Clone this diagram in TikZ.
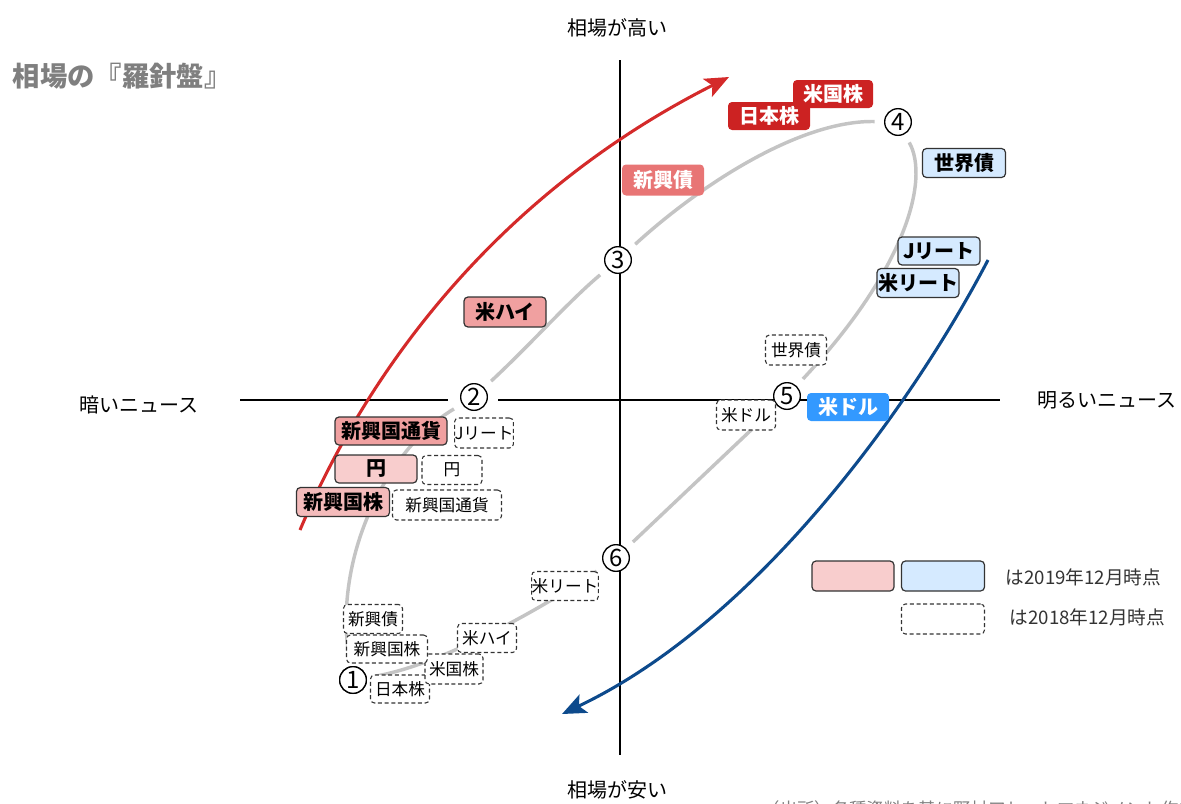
\documentclass[tikz,border=0pt]{standalone}
\usepackage{fontspec}
\setmainfont{Noto Sans CJK JP}
\usetikzlibrary{arrows.meta}
\definecolor{rdark}{HTML}{CC2222}
\definecolor{rarrow}{HTML}{D42A2A}
\definecolor{rmid}{HTML}{E87575}
\definecolor{rpink}{HTML}{F0A0A0}
\definecolor{rlight}{HTML}{F8CDCD}
\definecolor{rpinktwo}{HTML}{F4BBBB}
\definecolor{blight}{HTML}{D5EAFF}
\definecolor{bbright}{HTML}{3399FF}
\definecolor{barrow}{HTML}{0D4A8C}
\definecolor{gcurve}{HTML}{C4C4C4}
\definecolor{edge}{HTML}{333333}
\definecolor{titlegray}{HTML}{7F7F7F}
\begin{document}
\begin{tikzpicture}[x=0.75pt,y=-0.75pt,
 wh/.style 2 args={minimum width=#1*0.75pt,minimum height=#2*0.75pt},
 box/.style={rounded corners=3pt, inner sep=0pt, font=\bfseries\fontsize{15}{15}\selectfont},
 fbox/.style={box, draw=edge, line width=0.9pt, text=black},
 wbox/.style={box, text=white},
 dbox/.style={rounded corners=3pt, inner sep=0pt, draw=edge, line width=0.8pt, dash pattern=on 3pt off 2pt, fill=white, font=\fontsize{12.5}{12.5}\selectfont},
 num/.style={circle, draw=black, line width=1pt, fill=white, minimum size=20pt, inner sep=0pt, font=\fontsize{18}{18}\selectfont},
 gline/.style={draw=gcurve, line width=2.6pt, shorten <=7pt, shorten >=7pt},
 axisline/.style={draw=black, line width=0.8pt},
 lbl/.style={font=\fontsize{15}{15}\selectfont}
]
\useasboundingbox (0,0) rectangle (1181,803);
\clip (0,0) rectangle (1181,803);

% axes
\coordinate (axT) at (620,60);
\coordinate (axB) at (620,755);
\coordinate (axL) at (240,400);
\coordinate (axLm) at (448,400);
\coordinate (axRm) at (498,400);
\coordinate (axR) at (1000,400);
\draw[axisline] (axT) -- (axB);
\draw[axisline] (axL) -- (axLm);
\draw[axisline] (axRm) -- (axR);

% numbered circles
\node[num] (n1) at (353,680) {1};
\node[num] (n2) at (474,397) {2};
\node[num] (n3) at (618,260) {3};
\node[num] (n4) at (898,122) {4};
\node[num] (n5) at (787,396) {5};
\node[num] (n6) at (616,558) {6};

% gray cycle
\draw[gline] (n1) .. controls (333,560) and (385,450) .. (n2);
\draw[gline] (n2) .. controls (530,345) and (570,300) .. (n3);
\draw[gline] (n3) .. controls (700,185) and (800,120) .. (n4);
\draw[gline] (n4) .. controls (930,180) and (905,270) .. (n5);
\draw[gline] (n5) -- (n6);
\draw[gline] (n6) .. controls (540,610) and (440,665) .. (n1);

% red and blue arrows
\coordinate (ra0) at (300,530);
\coordinate (ra1) at (729,77);
\draw[draw=rarrow, line width=2.3pt, -{Stealth[length=18pt,width=15pt,inset=4pt]}]
  (ra0) .. controls (372,360) and (505,190) .. (ra1);
\coordinate (ba0) at (988,260);
\coordinate (ba1) at (562,714);
\draw[draw=barrow, line width=2.3pt, -{Stealth[length=18pt,width=15pt,inset=4pt]}]
  (ba0) .. controls (915,400) and (760,620) .. (ba1);

% 2018 dashed boxes
\node[dbox, wh={61}{30}] (d1) at (796,350) {世界債};
\node[dbox, wh={59}{30}] (d2) at (746,415) {米ドル};
\node[dbox, wh={58}{30}] (d3) at (484,433) {Jリート};
\node[dbox, wh={60}{29}] (d4) at (452,470) {円};
\node[dbox, wh={109}{30}] (d5) at (447,505) {新興国通貨};
\node[dbox, wh={60}{29}] (d6) at (565,586) {米リート};
\node[dbox, wh={59}{29}] (d7) at (373,619) {新興債};
\node[dbox, wh={59}{29}] (d8) at (487,638) {米ハイ};
\node[dbox, wh={59}{28}] (d9) at (400,689) {日本株};
\node[dbox, wh={58}{30}] (d10) at (454,669) {米国株};
\node[dbox, wh={81}{28}] (d11) at (387,649) {新興国株};
\node[num] at (n1) {1};

% 2019 filled boxes
\node[wbox, fill=rdark, wh={82}{28}] (f1) at (769,116) {日本株};
\node[wbox, fill=rdark, wh={80}{28}] (f2) at (833,94) {米国株};
\node[wbox, fill=rmid, wh={82}{31}] (f3) at (663,180) {新興債};
\node[fbox, fill=blight, wh={83}{29}] (f4) at (964,163) {世界債};
\node[fbox, fill=blight, wh={82}{28}] (f5) at (939,251) {Jリート};
\node[fbox, fill=blight, wh={82}{29}] (f6) at (918,283) {米リート};
\node[wbox, fill=bbright, wh={82}{28}] (f7) at (848,407) {米ドル};
\node[fbox, fill=rpink, wh={82}{30}] (f8) at (505,312) {米ハイ};
\node[fbox, fill=rpink, wh={112}{28}] (f9) at (391,431) {新興国通貨};
\node[fbox, fill=rlight, wh={82}{28}] (f10) at (376,469) {円};
\node[fbox, fill=rpinktwo, wh={93}{29}] (f11) at (343,502) {新興国株};

% legend
\node[fbox, fill=rlight, wh={82}{30}] (lg1) at (853,576) {};
\node[fbox, fill=blight, wh={83}{30}] (lg2) at (943,576) {};
\node[dbox, wh={83}{30}] (lg3) at (943,619) {};
\node[anchor=west, font=\fontsize{14}{14}\selectfont, text=edge] (lt1) at (1001,577) {は2019年12月時点};
\node[anchor=west, font=\fontsize{14}{14}\selectfont, text=edge] (lt2) at (1005,617) {は2018年12月時点};

% axis labels
\node[lbl] (top) at (617,28) {相場が高い};
\node[lbl] (bot) at (617,790) {相場が安い};
\node[lbl] (lft) at (139,405) {暗いニュース};
\node[lbl] (rgt) at (1107,400) {明るいニュース};

% title and source
\node[anchor=west, text=titlegray, font=\bfseries\fontsize{20.5}{20.5}\selectfont] (title) at (8,76) {相場の『羅針盤』};
\node[anchor=west, text=titlegray, font=\fontsize{13}{13}\selectfont] (src) at (758,809) {（出所）各種資料を基に野村アセットマネジメント作成};
\end{tikzpicture}
\end{document}
